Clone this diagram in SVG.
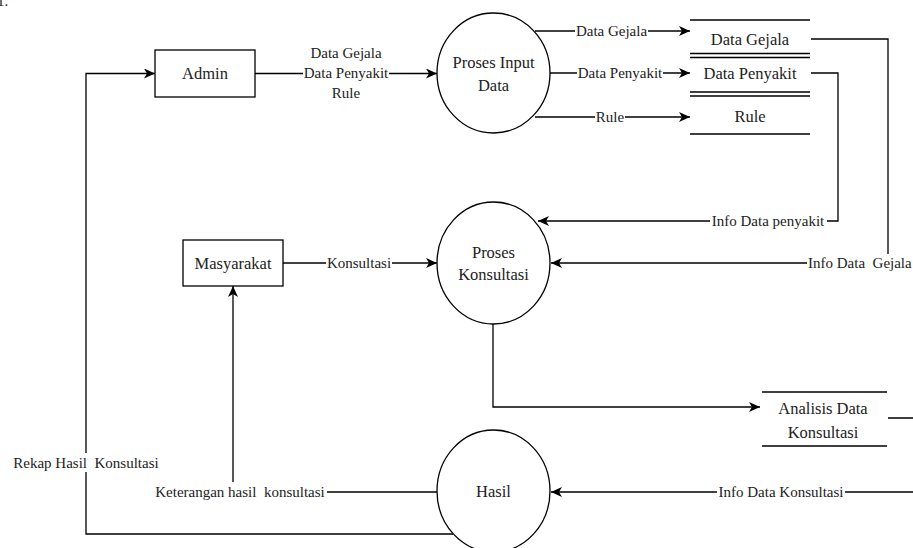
<svg xmlns="http://www.w3.org/2000/svg" width="913" height="548" viewBox="0 0 913 548" font-family="Liberation Serif, serif">
<defs>
<marker id="arr" markerWidth="12" markerHeight="10" refX="11" refY="5" orient="auto" markerUnits="userSpaceOnUse">
<path d="M0,0 L11,5 L0,10 L3,5 z" fill="#000"/>
</marker>
<style>
text{fill:#222;white-space:pre}
.n{font-size:16.5px;text-anchor:middle}
.l{font-size:15px;text-anchor:middle}
.e{fill:none;stroke:#000;stroke-width:1.3}
.a{marker-end:url(#arr)}
.s{fill:none;stroke:#000;stroke-width:1.3}
.b{fill:#fff}
.sh{fill:#fff;stroke:#000;stroke-width:1.3}
</style>
</defs>
<rect width="913" height="548" fill="#fff"/>
<text x="-3" y="5.5" font-size="15">1.</text>

<g id="connectors">
<path class="e a" d="M255,73.5 H437"/>
<path class="e a" d="M535,31 H690"/>
<path class="e a" d="M550,73 H690"/>
<path class="e a" d="M535,117 H690"/>
<path class="e a" d="M811,39 H888 V263 H551"/>
<path class="e a" d="M811,73 H838 V221 H538"/>
<path class="e a" d="M283,263 H437"/>
<path class="e a" d="M493,324 V407 H760"/>
<path class="e a" d="M888,418 H925 V492 H551"/>
<path class="e a" d="M437,492 H233 V286"/>
<path class="e a" d="M453,534 H86 V73.5 H155"/>
<rect class="b" x="303" y="66" width="86" height="15"/>
<rect class="b" x="575" y="24" width="73" height="15"/>
<rect class="b" x="577" y="66" width="86" height="15"/>
<rect class="b" x="595" y="110" width="30" height="15"/>
<rect class="b" x="710" y="213" width="117" height="16"/>
<rect class="b" x="807" y="254" width="110" height="18"/>
<rect class="b" x="326" y="255" width="66" height="16"/>
<rect class="b" x="717" y="484" width="128" height="16"/>
<rect class="b" x="153" y="482" width="174" height="18"/>
<rect class="b" x="11" y="453" width="150" height="19"/>
<text class="l" x="346" y="58">Data Gejala</text>
<text class="l" x="346" y="78">Data Penyakit</text>
<text class="l" x="346" y="98">Rule</text>
<text class="l" x="611.5" y="36">Data Gejala</text>
<text class="l" x="620" y="78">Data Penyakit</text>
<text class="l" x="610" y="122">Rule</text>
<text class="l" x="768" y="226">Info Data penyakit</text>
<text class="l" x="808" y="268" style="text-anchor:start">Info Data  Gejala</text>
<text class="l" x="359" y="268">Konsultasi</text>
<text class="l" x="781" y="497">Info Data Konsultasi</text>
<text class="l" x="240" y="497">Keterangan hasil  konsultasi</text>
<text class="l" x="86" y="468">Rekap Hasil  Konsultasi</text>
</g>

<g id="admin">
<rect class="sh" x="155" y="50" width="100" height="47"/>
<text class="n" x="205" y="79">Admin</text>
</g>
<g id="masyarakat">
<rect class="sh" x="183" y="240" width="100" height="46"/>
<text class="n" x="233" y="269">Masyarakat</text>
</g>
<g id="proses-input">
<ellipse class="sh" cx="493.5" cy="73" rx="56.5" ry="60"/>
<text class="n" x="493.5" y="68">Proses Input</text>
<text class="n" x="493.5" y="91">Data</text>
</g>
<g id="proses-konsultasi">
<ellipse class="sh" cx="493.5" cy="263" rx="56.5" ry="61"/>
<text class="n" x="493.5" y="258">Proses</text>
<text class="n" x="493.5" y="280">Konsultasi</text>
</g>
<g id="hasil">
<ellipse class="sh" cx="493.5" cy="491" rx="56.5" ry="61"/>
<text class="n" x="493.5" y="497">Hasil</text>
</g>
<g id="store-data-gejala">
<path class="s" d="M690,20 H810 M690,53.5 H810"/>
<text class="n" x="750" y="45">Data Gejala</text>
</g>
<g id="store-data-penyakit">
<path class="s" d="M690,57.5 H810 M690,92 H810"/>
<text class="n" x="750" y="79">Data Penyakit</text>
</g>
<g id="store-rule">
<path class="s" d="M690,96 H810 M690,134 H810"/>
<text class="n" x="750" y="122">Rule</text>
</g>
<g id="store-analisis">
<path class="s" d="M762,392 H887 M762,446 H887"/>
<text class="n" x="823" y="414">Analisis Data</text>
<text class="n" x="823" y="438">Konsultasi</text>
</g>
</svg>
